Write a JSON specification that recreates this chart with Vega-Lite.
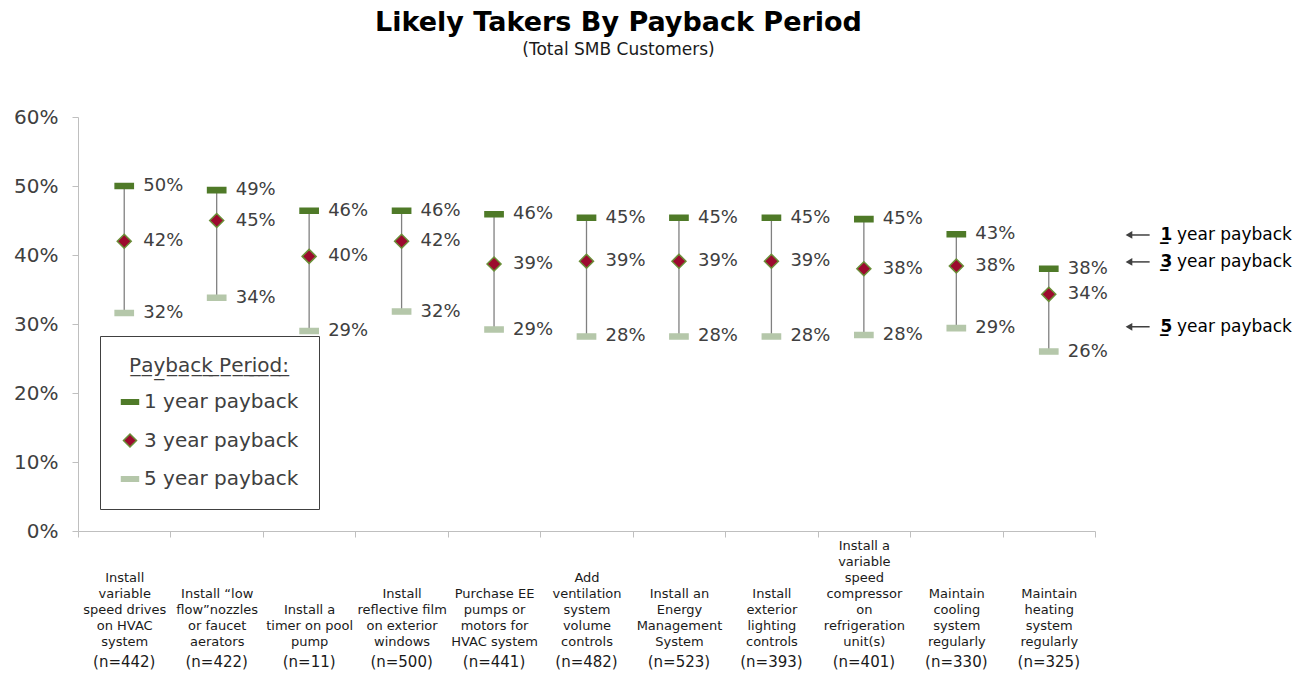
{
  "$schema": "https://vega.github.io/schema/vega-lite/v6.json",
  "width": 1215,
  "height": 414,
  "padding": {"left": 13, "top": 9, "right": 5, "bottom": 2},
  "background": "white",
  "config": {"font": "DejaVu Sans", "view": {"stroke": null}},
  "title": {
    "text": "Likely Takers By Payback Period",
    "subtitle": "(Total SMB Customers)",
    "fontSize": 27,
    "fontWeight": "bold",
    "color": "#000000",
    "subtitleFontSize": 17,
    "subtitleColor": "#1a1a1a",
    "subtitlePadding": 5,
    "anchor": "middle",
    "frame": "group",
    "dx": -67,
    "offset": 48
  },
  "datasets": {
    "items": [
      {"cat": "Install|variable|speed drives|on HVAC|system#(n=442)", "p1": 0.500, "p3": 0.420, "p5": 0.316},
      {"cat": "Install “low|flow”nozzles|or faucet|aerators#(n=422)", "p1": 0.494, "p3": 0.450, "p5": 0.338},
      {"cat": "Install a|timer on pool|pump#(n=11)", "p1": 0.464, "p3": 0.398, "p5": 0.290},
      {"cat": "Install|reflective film|on exterior|windows#(n=500)", "p1": 0.464, "p3": 0.420, "p5": 0.318},
      {"cat": "Purchase EE|pumps or|motors for|HVAC system#(n=441)", "p1": 0.459, "p3": 0.387, "p5": 0.292},
      {"cat": "Add|ventilation|system|volume|controls#(n=482)", "p1": 0.454, "p3": 0.391, "p5": 0.282},
      {"cat": "Install an|Energy|Management|System#(n=523)", "p1": 0.454, "p3": 0.391, "p5": 0.282},
      {"cat": "Install|exterior|lighting|controls#(n=393)", "p1": 0.454, "p3": 0.391, "p5": 0.282},
      {"cat": "Install a|variable|speed|compressor|on|refrigeration|unit(s)#(n=401)", "p1": 0.452, "p3": 0.380, "p5": 0.284},
      {"cat": "Maintain|cooling|system|regularly#(n=330)", "p1": 0.430, "p3": 0.384, "p5": 0.294},
      {"cat": "Maintain|heating|system|regularly#(n=325)", "p1": 0.380, "p3": 0.343, "p5": 0.260}
    ],
    "notes": [
      {"num": "1", "y": 0.429},
      {"num": "3", "y": 0.390},
      {"num": "5", "y": 0.296}
    ]
  },
  "layer": [
    {
      "data": {"name": "items"},
      "resolve": {"axis": {"x": "independent"}},
      "layer": [
        {
          "mark": {"type": "rule", "color": "#808080", "strokeWidth": 1.3},
          "encoding": {
            "x": {
              "field": "cat", "type": "nominal", "sort": null,
              "scale": {"range": [0, 1017], "paddingInner": 0, "paddingOuter": 0},
              "axis": {
                "orient": "bottom",
                "title": null,
                "labelAngle": 0,
                "tickBand": "extent",
                "domainColor": "#bfbfbf",
                "tickColor": "#bfbfbf",
                "tickSize": 6,
                "labelFontSize": 13,
                "labelColor": "#1a1a1a",
                "labelLineHeight": 16,
                "labelBaseline": "top",
                "labelPadding": 2,
                "labelLimit": 200,
                "labelExpr": "isString(datum.value) ? split(slice('\u2800|\u2800|\u2800|\u2800|\u2800|\u2800|', 0, 2 * (7 - length(split(split(datum.value, '#')[0], '|')))) + split(datum.value, '#')[0], '|') : ''"
              }
            },
            "y": {
              "field": "p5", "type": "quantitative",
              "scale": {"domain": [0, 0.6], "nice": false},
              "axis": {
                "title": null,
                "values": [0, 0.1, 0.2, 0.3, 0.4, 0.5, 0.6],
                "format": ".0%",
                "grid": false,
                "domainColor": "#bfbfbf",
                "tickColor": "#bfbfbf",
                "tickSize": 6,
                "labelFontSize": 20,
                "labelColor": "#404040",
                "labelPadding": 14
              }
            },
            "y2": {"field": "p1"}
          }
        },
        {
          "transform": [{"fold": ["p1", "p3", "p5"], "as": ["period", "value"]}],
          "mark": {"type": "point", "filled": true, "size": 196, "strokeWidth": 1.5, "opacity": 1},
          "encoding": {
            "x": {
              "field": "cat", "type": "nominal", "sort": null,
              "axis": {
                "orient": "bottom",
                "title": null,
                "labelAngle": 0,
                "ticks": false,
                "domain": false,
                "labelFontSize": 15,
                "labelColor": "#1a1a1a",
                "labelBaseline": "alphabetic",
                "labelPadding": 135,
                "labelExpr": "isString(datum.value) ? split(datum.value, '#')[1] : ''"
              }
            },
            "y": {"field": "value", "type": "quantitative"},
            "fill": {
              "field": "period", "type": "nominal",
              "scale": {"domain": ["p1", "p3", "p5"], "range": ["#4f7a28", "#9c0a2e", "#b5c7aa"]},
              "legend": {
                "title": "P̲a̲y̲b̲a̲c̲k̲ ̲P̲e̲r̲i̲o̲d̲:̲",
                "orient": "bottom-left",
                "offset": 22,
                "labelExpr": "{'p1': '1 year payback', 'p3': '3 year payback', 'p5': '5 year payback'}[datum.label]",
                "labelFontSize": 20,
                "labelColor": "#404040",
                "labelLimit": 300,
                "titleFontSize": 20,
                "titleFontWeight": "normal",
                "titleColor": "#404040",
                "titleAnchor": "middle",
                "titlePadding": 16,
                "titleLimit": 300,
                "symbolSize": 170,
                "symbolStrokeWidth": 1.5,
                "symbolOffset": 0,
                "rowPadding": 18.5,
                "padding": 20,
                "strokeColor": "#404040",
                "fillColor": "white"
              }
            },
            "stroke": {
              "field": "period", "type": "nominal",
              "scale": {"domain": ["p1", "p3", "p5"], "range": ["#4f7a28", "#6a8f38", "#b5c7aa"]},
              "legend": {"title": "P̲a̲y̲b̲a̲c̲k̲ ̲P̲e̲r̲i̲o̲d̲:̲"}
            },
            "shape": {
              "field": "period", "type": "nominal",
              "scale": {"domain": ["p1", "p3", "p5"], "range": ["M-1.3,-0.36H1.3V0.36H-1.3Z", "diamond", "M-1.3,-0.36H1.3V0.36H-1.3Z"]},
              "legend": {"title": "P̲a̲y̲b̲a̲c̲k̲ ̲P̲e̲r̲i̲o̲d̲:̲"}
            }
          }
        },
        {
          "transform": [{"fold": ["p1", "p3", "p5"], "as": ["period", "value"]}],
          "mark": {"type": "text", "align": "left", "baseline": "middle", "dx": 19, "fontSize": 18, "color": "#404040"},
          "encoding": {
            "x": {"field": "cat", "type": "nominal", "sort": null, "axis": null},
            "y": {"field": "value", "type": "quantitative"},
            "text": {"field": "value", "type": "quantitative", "format": ".0%"}
          }
        }
      ]
    },
    {
      "data": {"name": "notes"},
      "layer": [
        {
          "mark": {"type": "rule", "color": "#404040", "strokeWidth": 1.5},
          "encoding": {
            "x": {"datum": 0.864, "type": "quantitative", "scale": {"domain": [0, 1], "nice": false, "zero": true}, "axis": null},
            "x2": {"datum": 0.882},
            "y": {"field": "y", "type": "quantitative"}
          }
        },
        {
          "mark": {"type": "point", "shape": "triangle-left", "filled": true, "color": "#404040", "size": 60, "opacity": 1},
          "encoding": {
            "x": {"datum": 0.865, "type": "quantitative"},
            "y": {"field": "y", "type": "quantitative"}
          }
        },
        {
          "mark": {"type": "text", "align": "left", "baseline": "middle", "fontSize": 17, "fontWeight": "bold", "color": "#000000"},
          "encoding": {
            "x": {"datum": 0.891, "type": "quantitative"},
            "y": {"field": "y", "type": "quantitative"},
            "text": {"field": "num"}
          }
        },
        {
          "mark": {"type": "text", "align": "left", "baseline": "middle", "fontSize": 17, "fontWeight": "bold", "color": "#000000", "text": "_"},
          "encoding": {
            "x": {"datum": 0.8905, "type": "quantitative"},
            "y": {"field": "y", "type": "quantitative"}
          }
        },
        {
          "mark": {"type": "text", "align": "left", "baseline": "middle", "fontSize": 17, "color": "#000000", "text": "year payback"},
          "encoding": {
            "x": {"datum": 0.9045, "type": "quantitative"},
            "y": {"field": "y", "type": "quantitative"}
          }
        }
      ]
    }
  ],
  "resolve": {"scale": {"x": "independent"}}
}
